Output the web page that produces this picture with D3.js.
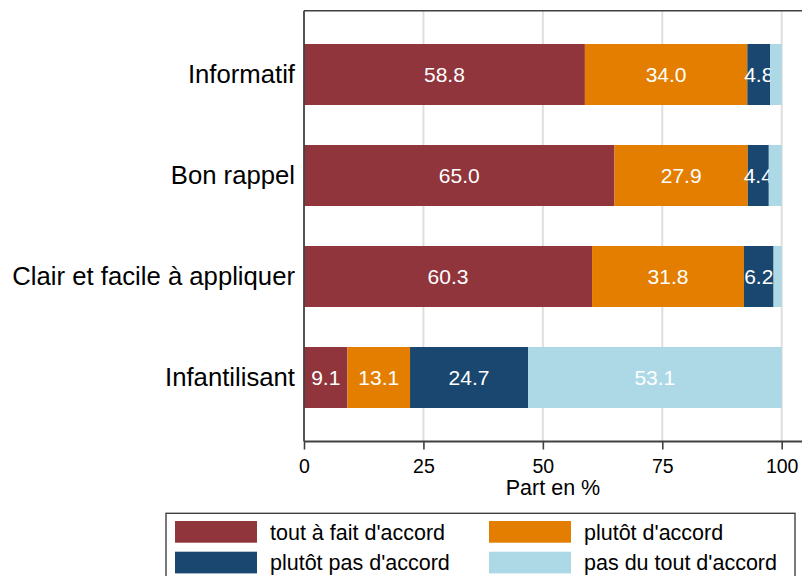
<!DOCTYPE html>
<html>
<head>
<meta charset="utf-8">
<script src="https://cdn.jsdelivr.net/npm/d3@7"></script>
<style>
  body { margin: 0; background: #fff; }
  svg { display: block; font-family: "Liberation Sans", Arial, sans-serif; }
</style>
</head>
<body>
<div id="chart"></div>
<script>
// categories, top to bottom
const categories = ['Informatif', 'Bon rappel', 'Clair et facile à appliquer', 'Infantilisant'];
const seriesNames = ["tout à fait d'accord", "plutôt d'accord", "plutôt pas d'accord", "pas du tout d'accord"];
const seriesColors = ['#90353b', '#e37e00', '#1a476f', '#add8e6'];
// share per answer, in %
const toutAFait = [58.8, 65.0, 60.3, 9.1];
const plutot = [34.0, 27.9, 31.8, 13.1];
const plutotPas = [4.8, 4.4, 6.2, 24.7];
const pasDuTout = [2.4, 2.7, 1.7, 53.1];
const xTicks = [0, 25, 50, 75, 100];

const w = 802, h = 576;
const plotLeft = 304, plotTop = 10.7, plotBottom = 441.5, xEnd = 781.7;

const rows = categories.map((c, i) => ({
  cat: c,
  s0: toutAFait[i], s1: plutot[i], s2: plutotPas[i], s3: pasDuTout[i]
}));

const svg = d3.select('#chart').append('svg')
  .attr('width', w)
  .attr('height', h);

const xScale = d3.scaleLinear().domain([0, 100]).range([plotLeft, xEnd]);
const yScale = d3.scaleBand()
  .domain(categories)
  .range([24, 428])
  .paddingInner(40 / 101)
  .paddingOuter(20 / 101);

// gridlines
svg.append('g')
  .selectAll('line')
  .data(xTicks.slice(1))
  .enter()
  .append('line')
  .attr('x1', d => xScale(d))
  .attr('x2', d => xScale(d))
  .attr('y1', plotTop)
  .attr('y2', plotBottom)
  .attr('stroke', '#dedede')
  .attr('stroke-width', 2);

// stacked bars
const stack = d3.stack().keys(['s0', 's1', 's2', 's3']);
const layers = stack(rows);

const layerG = svg.selectAll('.layer')
  .data(layers)
  .enter()
  .append('g')
  .attr('class', 'layer')
  .attr('fill', (d, i) => seriesColors[i]);

layerG.selectAll('rect')
  .data(d => d)
  .enter()
  .append('rect')
  .attr('x', d => xScale(d[0]))
  .attr('y', d => yScale(d.data.cat))
  .attr('width', d => xScale(d[1]) - xScale(d[0]))
  .attr('height', yScale.bandwidth());

layerG.selectAll('text')
  .data(d => d.filter(p => p[1] - p[0] >= 3))
  .enter()
  .append('text')
  .attr('x', d => (xScale(d[0]) + xScale(d[1])) / 2)
  .attr('y', d => yScale(d.data.cat) + yScale.bandwidth() / 2)
  .attr('dy', '0.36em')
  .attr('text-anchor', 'middle')
  .attr('fill', '#fff')
  .style('font-size', '21px')
  .text(d => d3.format('.1f')(d[1] - d[0]));

// frame: top line and left axis
svg.append('line')
  .attr('x1', plotLeft).attr('x2', w)
  .attr('y1', plotTop).attr('y2', plotTop)
  .attr('stroke', '#404040').attr('stroke-width', 1.6);

svg.append('line')
  .attr('x1', plotLeft).attr('x2', plotLeft)
  .attr('y1', plotTop).attr('y2', plotBottom)
  .attr('stroke', '#404040').attr('stroke-width', 1.8);

// category labels
svg.append('g')
  .selectAll('text')
  .data(categories)
  .enter()
  .append('text')
  .attr('x', 295)
  .attr('y', d => yScale(d) + yScale.bandwidth() / 2)
  .attr('dy', '0.35em')
  .attr('text-anchor', 'end')
  .attr('fill', '#000')
  .style('font-size', '25.7px')
  .text(d => d);

// x axis
const xAxis = d3.axisBottom(xScale)
  .tickValues(xTicks)
  .tickSize(8)
  .tickPadding(10)
  .tickFormat(d3.format('d'));

const gx = svg.append('g')
  .attr('transform', 'translate(0,' + plotBottom + ')')
  .call(xAxis);
gx.select('.domain').remove();
gx.selectAll('.tick line').attr('stroke', '#404040').attr('stroke-width', 1.6);
gx.selectAll('.tick text')
  .attr('fill', '#000')
  .style('font-size', '19.5px')
  .style('font-family', '"Liberation Sans", Arial, sans-serif');

svg.append('line')
  .attr('x1', plotLeft).attr('x2', w)
  .attr('y1', plotBottom).attr('y2', plotBottom)
  .attr('stroke', '#404040').attr('stroke-width', 1.8);

svg.append('text')
  .attr('x', (plotLeft + w) / 2)
  .attr('y', 495)
  .attr('text-anchor', 'middle')
  .style('font-size', '21.5px')
  .text('Part en %');

// legend
const legend = svg.append('g');
legend.append('rect')
  .attr('x', 166).attr('y', 513.3)
  .attr('width', 629).attr('height', 80)
  .attr('fill', '#fff')
  .attr('stroke', '#404040')
  .attr('stroke-width', 1.4);

const legendPos = [[175, 521], [489, 521], [175, 551.7], [489, 551.7]];
const items = legend.selectAll('.item')
  .data(seriesNames)
  .enter()
  .append('g')
  .attr('class', 'item')
  .attr('transform', (d, i) => 'translate(' + legendPos[i][0] + ',' + legendPos[i][1] + ')');

items.append('rect')
  .attr('width', 82)
  .attr('height', 21.7)
  .attr('fill', (d, i) => seriesColors[i]);

items.append('text')
  .attr('x', 95)
  .attr('y', 11)
  .attr('dy', '0.35em')
  .style('font-size', '21.5px')
  .attr('fill', '#000')
  .text(d => d);
</script>
</body>
</html>
